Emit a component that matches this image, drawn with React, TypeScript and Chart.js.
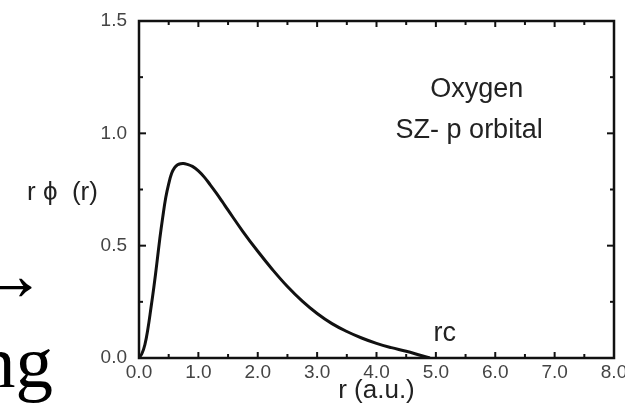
import React, { useEffect, useRef } from "react";
import { Chart, registerables } from "chart.js";

Chart.register(...registerables);

// r (a.u.) and r·phi(r)
const rValues = [
  0, 0.05, 0.1, 0.15, 0.2, 0.25, 0.3, 0.35, 0.4, 0.45, 0.5, 0.55, 0.6, 0.65, 0.7, 0.75, 0.8, 0.9, 1.0, 1.1,
  1.2, 1.3, 1.4, 1.5, 1.75, 2.0, 2.25, 2.5, 2.75, 3.0, 3.25, 3.5, 3.75, 4.0, 4.25, 4.5, 4.75, 4.9,
];
const phiValues = [
  0, 0.02, 0.06, 0.13, 0.22, 0.315, 0.42, 0.53, 0.627, 0.713, 0.775, 0.822, 0.847, 0.86, 0.865, 0.866, 0.863,
  0.853, 0.833, 0.805, 0.771, 0.735, 0.697, 0.658, 0.563, 0.475, 0.393, 0.318, 0.253, 0.198, 0.153, 0.118, 0.089,
  0.065, 0.046, 0.03, 0.011, 0,
];

const xMin = 0;
const xMax = 8;
const xMajorStep = 1;
const xMinorStep = 0.5;
const yMin = 0;
const yMax = 1.5;
const yMajorStep = 0.5;
const yMinorStep = 0.25;

const xTitle = "r (a.u.)";
const yTitle = "r \u03D5  (r)";
const labelLine1 = "Oxygen";
const labelLine2 = "SZ- p orbital";
const cutoffLabel = "rc";
const slideArrow = "\u2192";
const slideWord = "ng";

const SANS = '"Liberation Sans", Arial, Helvetica, sans-serif';
const SERIF = '"Liberation Serif", "Times New Roman", "DejaVu Serif", serif';

const framePlugin = {
  id: "framePlugin",
  afterDatasetsDraw(chart: any) {
    const { ctx, chartArea: a, scales } = chart;
    const x = scales.x;
    const y = scales.y;
    ctx.save();
    ctx.strokeStyle = "#111";
    ctx.lineWidth = 2.5;
    ctx.strokeRect(a.left, a.top, a.right - a.left, a.bottom - a.top);

    ctx.lineWidth = 2;
    const seg = (x1: number, y1: number, x2: number, y2: number) => {
      ctx.beginPath();
      ctx.moveTo(x1, y1);
      ctx.lineTo(x2, y2);
      ctx.stroke();
    };
    const nx = Math.round((xMax - xMin) / xMinorStep);
    for (let i = 1; i < nx; i++) {
      const v = xMin + i * xMinorStep;
      const major = Math.abs(v / xMajorStep - Math.round(v / xMajorStep)) < 1e-6;
      const len = major ? 6 : 4;
      const px = x.getPixelForValue(v);
      seg(px, a.bottom, px, a.bottom - len);
      seg(px, a.top, px, a.top + len);
    }
    const ny = Math.round((yMax - yMin) / yMinorStep);
    for (let i = 1; i < ny; i++) {
      const v = yMin + i * yMinorStep;
      const major = Math.abs(v / yMajorStep - Math.round(v / yMajorStep)) < 1e-6;
      const len = major ? 7 : 4;
      const py = y.getPixelForValue(v);
      seg(a.left, py, a.left + len, py);
      seg(a.right, py, a.right - len, py);
    }

    // annotations inside the plot
    ctx.fillStyle = "#222";
    ctx.textBaseline = "alphabetic";
    ctx.textAlign = "center";
    ctx.font = `27px ${SANS}`;
    ctx.fillText(labelLine1, x.getPixelForValue(5.69), y.getPixelForValue(1.162));
    ctx.fillText(labelLine2, x.getPixelForValue(5.56), y.getPixelForValue(0.979));
    ctx.fillText(cutoffLabel, x.getPixelForValue(5.15), y.getPixelForValue(0.076));

    // y-axis title, horizontal on the left
    ctx.textAlign = "left";
    ctx.font = `26px ${SANS}`;
    ctx.fillText(yTitle, 27, 200);

    // fragments of the slide text at the left edge
    ctx.fillStyle = "#000";
    ctx.font = `75px ${SERIF}`;
    ctx.textAlign = "right";
    ctx.fillText(slideArrow, 47, 300);
    ctx.textAlign = "left";
    ctx.fillText(slideWord, -22, 387);
    ctx.restore();
  },
};

export default function App() {
  const canvasRef = useRef<HTMLCanvasElement | null>(null);

  useEffect(() => {
    const canvas = canvasRef.current;
    if (!canvas) return;
    const data = rValues.map((r, i) => ({ x: r, y: phiValues[i] }));
    const chart = new Chart(canvas, {
      type: "line",
      data: {
        datasets: [
          {
            data,
            borderColor: "#111",
            borderWidth: 3,
            pointRadius: 0,
            fill: false,
            tension: 0.4,
          },
        ],
      },
      options: {
        responsive: false,
        animation: false,
        devicePixelRatio: 1,
        layout: { padding: { left: 0, right: 11, top: 21, bottom: 0 } },
        plugins: { legend: { display: false }, tooltip: { enabled: false } },
        scales: {
          x: {
            type: "linear",
            min: xMin,
            max: xMax,
            grid: { display: false, drawTicks: false },
            border: { display: false },
            ticks: {
              stepSize: xMajorStep,
              color: "#444",
              font: { family: SANS, size: 19 },
              padding: 3,
              maxRotation: 0,
              autoSkip: false,
              callback: (v: any) => Number(v).toFixed(1),
            },
            title: {
              display: true,
              text: xTitle,
              color: "#222",
              font: { family: SANS, size: 26 },
              padding: { top: 0, bottom: 1 },
            },
            afterFit: (s: any) => {
              s.height = 49;
              s.paddingLeft = 0;
              s.paddingRight = 0;
            },
          },
          y: {
            type: "linear",
            min: yMin,
            max: yMax,
            grid: { display: false, drawTicks: false },
            border: { display: false },
            ticks: {
              stepSize: yMajorStep,
              color: "#444",
              font: { family: SANS, size: 19 },
              padding: 12,
              callback: (v: any) => Number(v).toFixed(1),
            },
            afterFit: (s: any) => {
              s.width = 139;
              s.paddingTop = 0;
              s.paddingBottom = 0;
            },
          },
        },
      },
      plugins: [framePlugin],
    });
    return () => chart.destroy();
  }, []);

  return (
    <div
      style={{
        position: "fixed",
        left: 0,
        top: 0,
        width: 625,
        height: 407,
        background: "#fff",
        overflow: "hidden",
      }}
    >
      <canvas ref={canvasRef} width={625} height={407} style={{ display: "block" }} />
    </div>
  );
}
